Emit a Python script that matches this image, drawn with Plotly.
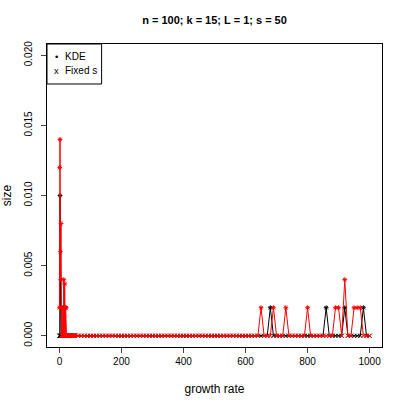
import plotly.graph_objects as go

# growth-rate grid: fine steps near zero, then every 10
growth_rate = list(range(0, 51)) + list(range(60, 1001, 10))

# non-zero sizes (everything else is 0)
red_nonzero = {
    0: 0.002, 1: 0.012, 2: 0.014, 3: 0.006, 4: 0.004, 5: 0.008, 6: 0.002,
    8: 0.002, 11: 0.002, 14: 0.004, 17: 0.0037, 20: 0.002, 22: 0.002,
    650: 0.002, 690: 0.002, 730: 0.002, 800: 0.002, 890: 0.002, 900: 0.002,
    920: 0.004, 950: 0.002, 960: 0.002, 970: 0.002,
}
black_nonzero = {
    2: 0.010, 680: 0.002, 860: 0.002, 920: 0.002, 980: 0.002,
}

red_size = [red_nonzero.get(g, 0.0) for g in growth_rate]
black_size = [black_nonzero.get(g, 0.0) for g in growth_rate]

title = "n = 100; k = 15; L = 1; s = 50"
legend_labels = ["KDE", "Fixed s"]
legend_glyphs = ["•", "x"]
x_ticks = [0, 200, 400, 600, 800, 1000]
y_ticks = [0.0, 0.005, 0.010, 0.015, 0.020]

FONT = "Liberation Sans, Arial, sans-serif"


def symbols(vals):
    return ["asterisk-open" if v > 0 else "x-thin-open" for v in vals]


fig = go.Figure()

fig.add_trace(go.Scatter(
    x=growth_rate, y=black_size, mode="lines+markers", showlegend=False,
    line=dict(color="black", width=1),
    marker=dict(symbol=symbols(black_size), size=4, color="black",
                line=dict(color="black", width=1)),
))
fig.add_trace(go.Scatter(
    x=growth_rate, y=red_size, mode="lines+markers", showlegend=False,
    line=dict(color="red", width=1),
    marker=dict(symbol=symbols(red_size), size=4, color="red",
                line=dict(color="red", width=1)),
))

axis_common = dict(
    showline=True, linecolor="black", linewidth=1, mirror=True,
    ticks="outside", ticklen=5, tickcolor="#444", showgrid=False,
    zeroline=False, automargin=False,
    tickfont=dict(family=FONT, size=10, color="black"),
)

# hand-drawn legend box in the top-left corner (R style)
fig.add_shape(type="rect", xref="x domain", yref="y domain",
              x0=0, x1=0.163, y0=0.868, y1=1,
              line=dict(color="black", width=1), fillcolor="white")
for i, (glyph, label) in enumerate(zip(legend_glyphs, legend_labels)):
    yy = 0.960 - i * 0.047
    fig.add_annotation(xref="x domain", yref="y domain", x=0.027, y=yy,
                       text=glyph, showarrow=False, xanchor="center",
                       yanchor="middle", font=dict(family=FONT, size=9.5))
    fig.add_annotation(xref="x domain", yref="y domain", x=0.05, y=yy,
                       text=label, showarrow=False, xanchor="left",
                       yanchor="middle", borderpad=0,
                       font=dict(family=FONT, size=10))

fig.update_layout(
    width=407, height=407,
    margin=dict(l=47, r=25, t=44, b=60),
    paper_bgcolor="white", plot_bgcolor="white",
    showlegend=False, hovermode=False,
    font=dict(family=FONT, size=10, color="black"),
    title=dict(text="<b>" + title + "</b>", x=0.5, xref="paper",
               xanchor="center", y=0.951, yanchor="middle",
               font=dict(family=FONT, size=11)),
    xaxis=dict(range=[-40, 1040], tickvals=x_ticks,
               title=dict(text="growth rate", standoff=18), **axis_common),
    yaxis=dict(range=[-0.0008, 0.0208], tickvals=y_ticks, tickformat=".3f",
               tickangle=-90, ticklabelstandoff=5,
               title=dict(text="size", standoff=9), **axis_common),
)

# drop the browser's default 8px body margin so the figure sits at (0, 0)
fig.write_html("out.html", config={"displayModeBar": False},
               post_script="document.body.style.margin='0';")
